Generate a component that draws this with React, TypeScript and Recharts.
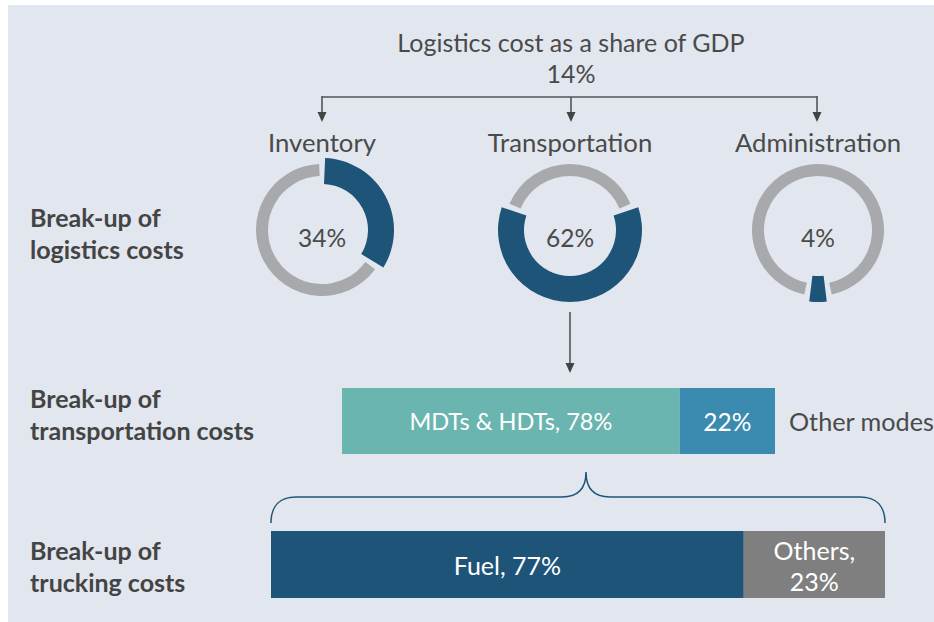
import React from "react";
import { PieChart, Pie, Cell, BarChart, Bar, XAxis, YAxis, LabelList } from "recharts";

// headline
const headline = "Logistics cost as a share of GDP";
const headlineShare = 14;

// break-up of logistics costs (donuts)
const costNames = ["Inventory", "Transportation", "Administration"];
const costShares = [34, 62, 4];

// break-up of transportation costs
const transportNames = ["MDTs & HDTs", "Other modes"];
const transportShares = [78, 22];

// break-up of trucking costs
const truckingNames = ["Fuel", "Others"];
const truckingShares = [77, 23];

const rowTitles = [
  ["Break-up of", "logistics costs"],
  ["Break-up of", "transportation costs"],
  ["Break-up of", "trucking costs"],
];

const FONT = "Lato, 'Noto Sans', sans-serif";
const BG = "#e1e6ef";
const INK = "#4a4a4a";
const NAVY = "#1f5479";
const RING = "#a7a9ac";
const TEAL = "#6bb5b0";
const STEEL = "#3b8ab0";
const SLATE = "#7f7f7f";

const PAD = 5;
const donutX = [322, 570, 818];
const donutY = 230;

function startAngleFor(i: number, share: number) {
  // first donut starts its highlight at 12 o'clock, the others center it at 6 o'clock
  if (i === 0) return 90 - PAD / 2;
  return -90 + ((share / 100) * (360 - 2 * PAD)) / 2;
}

const transportRow = [{ name: "transport", s0: transportShares[0], s1: transportShares[1] }];
const truckingRow = [{ name: "trucking", s0: truckingShares[0], s1: truckingShares[1] }];

const txt = (size: number, color = INK, weight: number | string = 400) => ({
  fontFamily: FONT,
  fontSize: size,
  fill: color,
  fontWeight: weight,
});

function Arrow({ x, y1, y2 }: { x: number; y1: number; y2: number }) {
  return (
    <g>
      <line x1={x} y1={y1} x2={x} y2={y2 - 8} stroke="#555" strokeWidth={1.6} />
      <polygon points={`${x - 4.5},${y2 - 10} ${x + 4.5},${y2 - 10} ${x},${y2}`} fill="#444" />
    </g>
  );
}

export default function App() {
  return (
    <div style={{ position: "absolute", left: 0, top: 0, width: 934, height: 622, background: "#fff" }}>
      <div style={{ position: "absolute", left: 8, top: 5, width: 926, height: 617, background: BG }} />

      <div style={{ position: "absolute", left: 0, top: 0 }}>
        <PieChart width={934} height={622} margin={{ top: 0, right: 0, bottom: 0, left: 0 }}>
          {costShares.map((v, i) => {
            const data = [
              { name: costNames[i], value: v },
              { name: "rest", value: 100 - v },
            ];
            const start = startAngleFor(i, v);
            return [
              <Pie
                key={"ring" + i}
                data={data}
                dataKey="value"
                cx={donutX[i]}
                cy={donutY}
                innerRadius={54}
                outerRadius={66}
                startAngle={start}
                endAngle={start - 360}
                paddingAngle={PAD}
                stroke="none"
                isAnimationActive={false}
              >
                <Cell fill="transparent" />
                <Cell fill={RING} />
              </Pie>,
              <Pie
                key={"share" + i}
                data={data}
                dataKey="value"
                cx={donutX[i]}
                cy={donutY}
                innerRadius={46}
                outerRadius={72}
                startAngle={start}
                endAngle={start - 360}
                paddingAngle={PAD}
                stroke="none"
                isAnimationActive={false}
              >
                <Cell fill={NAVY} />
                <Cell fill="transparent" />
              </Pie>,
            ];
          })}
        </PieChart>
      </div>

      <div style={{ position: "absolute", left: 342, top: 388 }}>
        <BarChart width={433} height={66} data={transportRow} layout="vertical" margin={{ top: 0, right: 0, bottom: 0, left: 0 }} barCategoryGap={0}>
          <XAxis type="number" domain={[0, 100]} hide />
          <YAxis type="category" dataKey="name" hide />
          <Bar dataKey="s0" stackId="t" fill={TEAL} isAnimationActive={false}>
            <LabelList
              dataKey="s0"
              content={(p: any) => (
                <text x={p.x + p.width / 2} y={p.y + p.height / 2} textAnchor="middle" dominantBaseline="central" style={txt(23.5, "#fff")}>
                  {`${transportNames[0]}, ${p.value}%`}
                </text>
              )}
            />
          </Bar>
          <Bar dataKey="s1" stackId="t" fill={STEEL} isAnimationActive={false}>
            <LabelList
              dataKey="s1"
              content={(p: any) => (
                <text x={p.x + p.width / 2} y={p.y + p.height / 2} textAnchor="middle" dominantBaseline="central" style={txt(24.5, "#fff")}>
                  {`${p.value}%`}
                </text>
              )}
            />
          </Bar>
        </BarChart>
      </div>

      <div style={{ position: "absolute", left: 271, top: 531 }}>
        <BarChart width={614} height={67} data={truckingRow} layout="vertical" margin={{ top: 0, right: 0, bottom: 0, left: 0 }} barCategoryGap={0}>
          <XAxis type="number" domain={[0, 100]} hide />
          <YAxis type="category" dataKey="name" hide />
          <Bar dataKey="s0" stackId="t" fill={NAVY} isAnimationActive={false}>
            <LabelList
              dataKey="s0"
              content={(p: any) => (
                <text x={p.x + p.width / 2} y={p.y + p.height / 2} textAnchor="middle" dominantBaseline="central" style={txt(25, "#fff")}>
                  {`${truckingNames[0]}, ${p.value}%`}
                </text>
              )}
            />
          </Bar>
          <Bar dataKey="s1" stackId="t" fill={SLATE} isAnimationActive={false}>
            <LabelList
              dataKey="s1"
              content={(p: any) => (
                <text x={p.x + p.width / 2} y={p.y + p.height / 2} textAnchor="middle" dominantBaseline="central" style={txt(25, "#fff")}>
                  <tspan x={p.x + p.width / 2} dy={-15}>{`${truckingNames[1]},`}</tspan>
                  <tspan x={p.x + p.width / 2} dy={31}>{`${p.value}%`}</tspan>
                </text>
              )}
            />
          </Bar>
        </BarChart>
      </div>

      <svg width={934} height={622} style={{ position: "absolute", left: 0, top: 0, pointerEvents: "none" }}>
        <text x={571} y={42} textAnchor="middle" dominantBaseline="central" style={txt(25)}>{headline}</text>
        <text x={571} y={73} textAnchor="middle" dominantBaseline="central" style={txt(25)}>{`${headlineShare}%`}</text>

        <path d={`M${donutX[0]},97 H${donutX[2] - 1}`} stroke="#555" strokeWidth={1.6} fill="none" />
        <Arrow x={donutX[0]} y1={96} y2={122} />
        <Arrow x={571} y1={97} y2={122} />
        <Arrow x={donutX[2] - 1} y1={96} y2={122} />

        {costNames.map((n, i) => (
          <text key={n} x={donutX[i]} y={142} textAnchor="middle" dominantBaseline="central" style={txt(25.7)}>{n}</text>
        ))}
        {costShares.map((v, i) => (
          <text key={"v" + i} x={donutX[i]} y={237} textAnchor="middle" dominantBaseline="central" style={txt(24.5)}>{`${v}%`}</text>
        ))}

        <Arrow x={570} y1={312} y2={373} />

        <text x={789} y={421} dominantBaseline="central" style={txt(25.2)}>{transportNames[1]}</text>

        <path
          d="M271,523 C271,506 280,497 296,497 L562,497 C578,497 586,488 586,472 C586,488 594,497 610,497 L860,497 C876,497 885,506 885,523"
          stroke={NAVY}
          strokeWidth={1.5}
          fill="none"
        />

        {rowTitles.map((lines, r) => {
          const ys = [[217, 249], [398, 430], [550, 582]][r];
          return lines.map((l, k) => (
            <text key={r + "-" + k} x={30} y={ys[k]} dominantBaseline="central" style={txt(25, "#444", 700)}>{l}</text>
          ));
        })}
      </svg>
    </div>
  );
}
